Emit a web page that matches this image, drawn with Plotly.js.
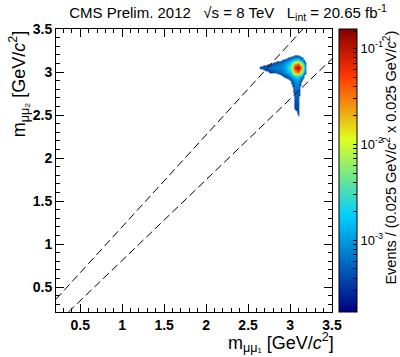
<!DOCTYPE html>
<html>
<head>
<meta charset="utf-8">
<script src="https://cdn.plot.ly/plotly-3.0.1.min.js"></script>
<style>html,body{margin:0;padding:0;background:#fff;}</style>
</head>
<body>
<div id="chart" style="width:400px;height:357px;"></div>
<script>
// bin centres (GeV/c^2)
const m1Centers = [2.60, 2.65, 2.70, 2.75, 2.80, 2.85, 2.90, 2.95, 3.00, 3.05, 3.10, 3.15, 3.20, 3.25];
const m2Centers = [2.45, 2.50, 2.55, 2.60, 2.65, 2.70, 2.75, 2.80, 2.85, 2.90, 2.95, 3.00, 3.05, 3.10, 3.15, 3.20, 3.25];
// log10(events per bin); -4.5 = empty
const O = -4.5;
const logEvents = [
  [O, O, O, O, O, O, O, O, O, -4.4, -3.85, O, O, O],
  [O, O, O, O, O, O, O, O, O, -3.8, -3.45, O, O, O],
  [O, O, O, O, O, O, O, O, O, -3.55, -3.4, O, O, O],
  [O, O, O, O, O, O, O, O, O, -3.42, -3.35, O, O, O],
  [O, O, O, O, O, O, O, O, -4.4, -3.38, -3.32, -4.4, O, O],
  [O, O, O, O, O, O, O, O, -4.3, -3.33, -3.28, -4.3, O, O],
  [O, O, O, O, O, O, O, O, -4.2, -3.28, -3.22, -4.2, O, O],
  [O, O, O, O, O, O, O, O, -4.0, -3.2, -3.15, -4.1, O, O],
  [O, O, O, O, O, O, O, -4.4, -3.75, -3.15, -3.1, -3.9, O, O],
  [O, O, O, O, O, O, -4.3, -3.9, -3.45, -3.05, -3.0, -3.6, -4.4, O],
  [O, O, O, O, -4.0, -4.1, -3.65, -3.35, -3.1, -2.75, -2.65, -3.1, -4.3, O],
  [-4.4, -3.93, -3.7, -3.5, -3.42, -3.3, -3.2, -3.0, -2.75, -1.75, -1.45, -2.4, -3.6, -4.4],
  [-3.7, -3.35, -3.25, -3.2, -3.15, -3.1, -3.05, -2.95, -2.4, -1.2, -0.85, -1.75, -3.55, -4.2],
  [-4.4, -3.77, -3.65, -3.52, -3.35, -3.25, -3.15, -2.95, -2.7, -1.75, -1.5, -2.4, -3.6, -4.3],
  [O, O, -4.3, -4.0, -3.8, -3.7, -3.6, -3.35, -3.05, -2.8, -2.75, -3.15, -4.1, O],
  [O, O, O, O, O, O, O, -4.2, -3.85, -3.6, -3.58, -3.95, O, O],
  [O, O, O, O, O, O, O, O, O, O, O, O, O, O]
];
// selection corridor (dashed lines) endpoints
const upperLineX = [0.2113, 3.154];
const upperLineY = [0.36, 3.5];
const lowerLineX = [0.36, 3.5];
const lowerLineY = [0.2113, 3.154];
// colour axis (log10 of events)
const zMin = -3.75, zMax = -0.8;
const cbTickVals = [-1, -2, -3];
const cbTickText = ['10<sup>-1</sup>', '10<sup>-2</sup>', '10<sup>-3</sup>'];
const cbMinorEvents = [0.15, 0.09, 0.08, 0.07, 0.06, 0.05, 0.04, 0.03, 0.02,
  0.009, 0.008, 0.007, 0.006, 0.005, 0.004, 0.003, 0.002,
  0.0009, 0.0008, 0.0007, 0.0006, 0.0005, 0.0004, 0.0003, 0.0002];
const cbMinorVals = cbMinorEvents.map(v => Math.log10(v));

const palette = [[0, 'rgb(0,0,130)'], [0.34, 'rgb(0,207,255)'], [0.61, 'rgb(222,255,31)'], [0.84, 'rgb(255,51,0)'], [1, 'rgb(130,0,0)']];

// display scale: empty bins white, threshold at -3.5
const dMin = -4.5, dMax = zMax, thr = -3.5;
function df(v) { return (v - dMin) / (dMax - dMin); }
function origColor(v) {
  const f = (v - zMin) / (zMax - zMin);
  for (let i = 1; i < palette.length; i++) {
    if (f <= palette[i][0]) {
      const a = palette[i-1], b = palette[i];
      const t = (f - a[0]) / (b[0] - a[0]);
      const ca = a[1].match(/\d+/g).map(Number), cb = b[1].match(/\d+/g).map(Number);
      return 'rgb(' + ca.map((c, k) => Math.round(c + (cb[k] - c) * t)).join(',') + ')';
    }
  }
  return palette[palette.length-1][1];
}
const dispScale = [[0, 'rgb(255,255,255)'], [df(thr) - 0.0001, 'rgb(255,255,255)'], [df(thr), origColor(thr)]];
palette.forEach(p => { const v = zMin + p[0] * (zMax - zMin); if (v > thr) dispScale.push([df(v), p[1]]); });

const font = 'Liberation Sans, Arial, Helvetica, sans-serif';

const traces = [
  {
    type: 'heatmap', x: m1Centers, y: m2Centers, z: logEvents,
    zsmooth: 'best', zmin: dMin, zmax: dMax, colorscale: dispScale,
    showscale: false, hoverinfo: 'skip'
  },
  {
    type: 'scatter', mode: 'lines', x: upperLineX, y: upperLineY,
    line: {color: 'black', width: 1, dash: '8px,4px'}, hoverinfo: 'skip'
  },
  {
    type: 'scatter', mode: 'lines', x: lowerLineX, y: lowerLineY,
    line: {color: 'black', width: 1, dash: '8px,4px'}, hoverinfo: 'skip'
  },
  {
    type: 'scatter', mode: 'markers', x: [null], y: [null],
    marker: {
      color: [zMin], cmin: zMin, cmax: zMax, colorscale: palette, showscale: true,
      colorbar: {
        x: (341 - 56) / 278, xanchor: 'left', xpad: 0, ypad: 0,
        y: 0.5, yanchor: 'middle', len: 1, lenmode: 'fraction', thickness: 18,
        outlinewidth: 1, outlinecolor: 'black',
        tickmode: 'array', tickvals: cbTickVals.concat(cbMinorVals),
        ticktext: cbTickText.concat(cbMinorVals.map(() => ' ')),
        ticks: 'inside', ticklen: 4, tickcolor: 'black',
        tickfont: {family: font, size: 13, color: 'black'}
      }
    },
    hoverinfo: 'skip'
  }
];

const axisCommon = {
  range: [0.2113, 3.5], autorange: false,
  tick0: 0, dtick: 0.5, ticks: 'inside', ticklen: 8, tickwidth: 1, tickcolor: 'black',
  minor: {dtick: 0.1, ticks: 'inside', ticklen: 4, tickcolor: 'black'},
  showline: true, linecolor: 'black', linewidth: 1, mirror: 'allticks',
  showgrid: false, zeroline: false,
  tickfont: {family: font, size: 14, color: 'black', weight: 'bold'}
};

const layout = {
  width: 400, height: 357,
  margin: {l: 56, r: 66, t: 29, b: 45, pad: 0},
  paper_bgcolor: 'white', plot_bgcolor: 'white',
  showlegend: false,
  title: {
    text: 'CMS Prelim. 2012\u00a0\u00a0\u00a0√s = 8 TeV\u00a0\u00a0\u00a0L<sub>int</sub> = 20.65 fb<sup>-1</sup>',
    font: {family: font, size: 15, color: 'black'},
    xref: 'container', yref: 'container', x: 228 / 400, xanchor: 'center', y: 1 - 13 / 357, yanchor: 'middle'
  },
  xaxis: Object.assign({}, axisCommon),
  yaxis: Object.assign({}, axisCommon),
  annotations: [
    {
      text: 'm<sub>μμ₁</sub> [GeV/<i>c</i><sup>2</sup>]', showarrow: false,
      xref: 'paper', yref: 'paper', x: (338 - 56) / 278, xanchor: 'right', y: (312 - 343) / 283, yanchor: 'middle',
      font: {family: font, size: 18, color: 'black'}
    },
    {
      text: 'm<sub>μμ₂</sub> [GeV/<i>c</i><sup>2</sup>]', showarrow: false, textangle: -90,
      xref: 'paper', yref: 'paper', x: (18 - 56) / 278, xanchor: 'center', y: 1.0, yanchor: 'top',
      font: {family: font, size: 18, color: 'black'}
    },
    {
      text: 'Events / (0.025 GeV/<i>c</i><sup>2</sup> x 0.025 GeV/<i>c</i><sup>2</sup>)', showarrow: false, textangle: -90,
      xref: 'paper', yref: 'paper', x: (392 - 56) / 278, xanchor: 'center', y: 1.0, yanchor: 'top',
      font: {family: font, size: 14.5, color: 'black'}
    }
  ]
};

Plotly.newPlot('chart', traces, layout, {staticPlot: true, displayModeBar: false});
</script>
</body>
</html>
